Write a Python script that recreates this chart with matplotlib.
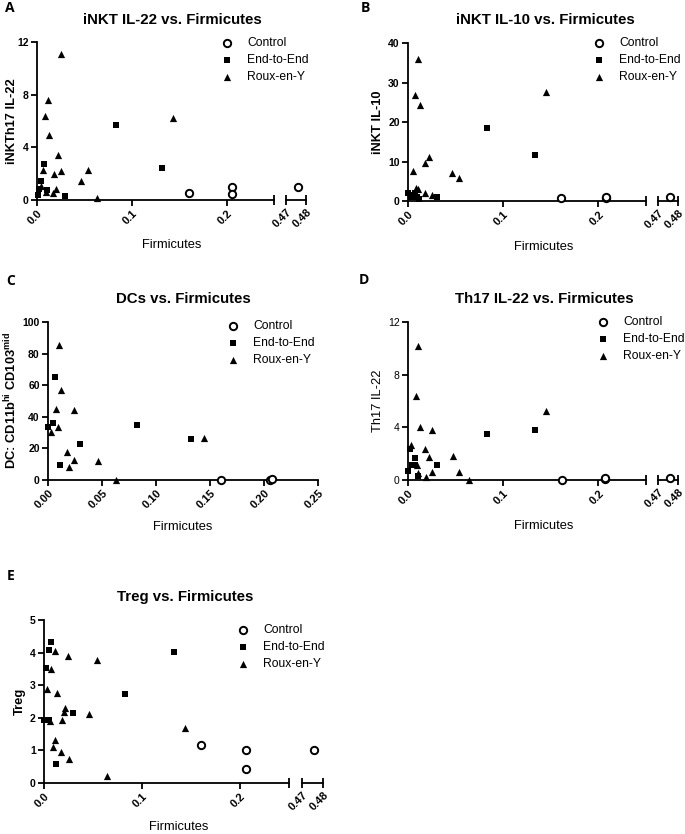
import matplotlib.pyplot as plt
import numpy as np

plt.rcParams['font.family'] = ['Liberation Sans', 'DejaVu Sans']
plt.rcParams['font.weight'] = 'bold'  # Prism style: tick labels and titles in bold
plt.rcParams['mathtext.fontset'] = 'custom'
plt.rcParams['mathtext.rm'] = 'Liberation Sans'
plt.rcParams['mathtext.bf'] = 'Liberation Sans:bold'

W, H = 685, 834
groups = ['Control', 'End-to-End', 'Roux-en-Y']

# -- A: iNKT IL-22 --
a_ctrl_x = [0.160, 0.206, 0.206, 0.476]
a_ctrl_y = [0.5, 1.0, 0.45, 1.0]
a_e2e_x = [0.001, 0.002, 0.004, 0.007, 0.011, 0.030, 0.083, 0.132]
a_e2e_y = [0.4, 0.85, 1.45, 2.7, 0.75, 0.3, 5.7, 2.4]
a_rxy_x = [0.025, 0.0115, 0.008, 0.013, 0.022, 0.006, 0.0175, 0.025, 0.054, 0.046,
           0.0635, 0.143, 0.010, 0.017, 0.020, 0.004]
a_rxy_y = [11.1, 7.6, 6.35, 4.95, 3.42, 2.28, 1.95, 2.2, 2.25, 1.45,
           0.15, 6.25, 0.63, 0.55, 0.82, 1.05]

# -- B: iNKT IL-10 --
b_ctrl_x = [0.161, 0.2077, 0.2077, 0.476]
b_ctrl_y = [0.7, 0.8, 1.1, 1.0]
b_e2e_x = [0.0828, 0.133, 0.0, 0.0035, 0.007, 0.009, 0.012, 0.030, 0.005]
b_e2e_y = [18.6, 11.6, 1.9, 1.0, 2.0, 1.0, 0.6, 0.9, 1.4]
b_rxy_x = [0.0109, 0.0077, 0.0126, 0.145, 0.0218, 0.0179, 0.0053, 0.0467, 0.0537,
           0.0088, 0.011, 0.018, 0.025]
b_rxy_y = [36.0, 26.8, 24.4, 27.6, 11.1, 9.6, 7.6, 7.2, 5.7, 3.3, 3.0, 2.0, 1.6]

# -- C: DCs --
c_ctrl_x = [0.160, 0.206, 0.207]
c_ctrl_y = [0.0, 0.0, 0.4]
c_e2e_x = [0.0068, 0.0043, 0.0, 0.082, 0.0296, 0.0108, 0.132]
c_e2e_y = [65.1, 36.2, 33.8, 34.5, 23.0, 9.7, 25.8]
c_rxy_x = [0.0105, 0.0123, 0.0074, 0.0243, 0.009, 0.0028, 0.0172, 0.0194, 0.0243,
           0.046, 0.0634, 0.144]
c_rxy_y = [85.6, 57.1, 44.8, 44.4, 33.6, 30.4, 18.0, 8.2, 12.5, 12.3, 0.0, 26.4]

# -- D: Th17 IL-22 --
d_ctrl_x = [0.162, 0.207, 0.207, 0.476]
d_ctrl_y = [0.0, 0.05, 0.12, 0.12]
d_e2e_x = [0.0828, 0.1337, 0.0018, 0.0, 0.0074, 0.0046, 0.0075, 0.011, 0.030]
d_e2e_y = [3.5, 3.76, 2.36, 0.71, 1.68, 1.17, 1.14, 0.33, 1.17]
d_rxy_x = [0.011, 0.0081, 0.0126, 0.025, 0.0035, 0.018, 0.0218, 0.047, 0.054, 0.064,
           0.145, 0.0095, 0.0105, 0.019, 0.025]
d_rxy_y = [10.15, 6.37, 4.0, 3.8, 2.64, 2.36, 1.73, 1.83, 0.61, 0.0,
           5.23, 1.14, 0.5, 0.2, 0.63]

# -- E: Treg --
e_ctrl_x = [0.160, 0.2064, 0.2064, 0.4757]
e_ctrl_y = [1.17, 1.02, 0.43, 1.02]
e_e2e_x = [0.0071, 0.0047, 0.0017, 0.0, 0.005, 0.0119, 0.030, 0.0827, 0.1325]
e_e2e_y = [4.34, 4.08, 3.53, 1.94, 1.92, 0.59, 2.14, 2.72, 4.01]
e_rxy_x = [0.0112, 0.0247, 0.054, 0.0075, 0.0034, 0.0132, 0.0217, 0.020, 0.018, 0.0464,
           0.0058, 0.0108, 0.009, 0.0176, 0.025, 0.064, 0.144]
e_rxy_y = [4.05, 3.90, 3.78, 3.49, 2.88, 2.76, 2.3, 2.19, 1.94, 2.11,
           1.89, 1.31, 1.10, 0.94, 0.73, 0.23, 1.68]

fig = plt.figure(figsize=(W / 100, H / 100), dpi=100)
plain_y_axes = []  # panels whose y tick labels are not bold


def rect(l, r, t, b):
    return [l / W, 1 - b / H, (r - l) / W, (b - t) / H]


def style(ax, lw=1.3):
    for s in ['top', 'right']:
        ax.spines[s].set_visible(False)
    for s in ['left', 'bottom']:
        ax.spines[s].set_linewidth(lw)
    ax.tick_params(axis='y', direction='out', length=4.5, width=lw, labelsize=7.5, pad=1.5)
    ax.tick_params(axis='x', direction='out', length=4.5, width=lw, labelsize=8, pad=1.5)


def scatter(ax, data, lo, hi):
    handles = []
    for (xs, ys), kind in zip(data, ['o', 's', '^']):
        xs, ys = np.array(xs), np.array(ys)
        m = (xs >= lo) & (xs <= hi)
        if kind == 'o':
            h = ax.scatter(xs[m], ys[m], marker='o', s=28, facecolors='white', edgecolors='black',
                           linewidths=1.4, clip_on=False, zorder=4)
        elif kind == 's':
            h = ax.scatter(xs[m], ys[m], marker='s', s=25, color='black', linewidths=0,
                           clip_on=False, zorder=3)
        else:
            h = ax.scatter(xs[m], ys[m], marker='^', s=27, color='black', linewidths=0,
                           clip_on=False, zorder=3)
        handles.append(h)
    return handles


def panel(data, main, ymax, yticks, broken=None, xticks=None, xlabels=None,
          ybold=True, legend_at=None):
    l, r, t, b = main
    ax = fig.add_axes(rect(l, r, t, b))
    style(ax)
    ax.set_ylim(0, ymax)
    ax.set_yticks(yticks)
    ax.set_xlim(0, 0.25)
    ax.set_xticks(xticks)
    ax.set_xticklabels(xlabels, rotation=45, ha='right', rotation_mode='anchor')
    if not ybold:
        plain_y_axes.append(ax)
    hi = 0.25 if broken else 1.0
    handles = scatter(ax, data, 0, hi)
    if broken:
        ax.set_xticks([0.25], minor=True)
        ax.tick_params(axis='x', which='minor', direction='inout', length=7, width=1.3)
        l2, r2 = broken
        ax2 = fig.add_axes(rect(l2, r2, t, b), sharey=ax)
        style(ax2)
        ax2.spines['left'].set_visible(False)
        ax2.tick_params(axis='y', left=False, labelleft=False)
        ax2.set_xlim(0.47, 0.48)
        ax2.set_xticks([0.47, 0.48])
        ax2.set_xticklabels(['0.47', '0.48'], rotation=45, ha='right', rotation_mode='anchor')
        ax2.tick_params(axis='x', direction='inout', length=7)
        ax2.patch.set_alpha(0)
        scatter(ax2, data, 0.47, 0.48)
    lx, ly = legend_at
    ax.legend(handles, groups, loc='upper left', bbox_to_anchor=(lx / W, 1 - ly / H),
              bbox_transform=fig.transFigure, frameon=False,
              prop={'size': 8.7, 'weight': 'normal'}, handlelength=1.0,
              handletextpad=1.15, labelspacing=0.42, borderpad=0, borderaxespad=0)
    return ax


def text(x, y, s, **kw):
    fig.text(x / W, 1 - y / H, s, ha='center', va='center', **kw)


brk_ticks = [0.0, 0.1, 0.2]
brk_labels = ['0.0', '0.1', '0.2']
TS, LS = 10.8, 9.3

# A
panel([(a_ctrl_x, a_ctrl_y), (a_e2e_x, a_e2e_y), (a_rxy_x, a_rxy_y)],
      (37, 274, 42, 200), 12, [0, 4, 8, 12], broken=(286, 306),
      xticks=brk_ticks, xlabels=brk_labels, legend_at=(221, 37))
text(172, 20, 'iNKT IL-22 vs. Firmicutes', fontsize=TS, fontweight='bold')
text(12, 121, 'iNKTh17 IL-22', fontsize=LS, fontweight='bold', rotation=90)
text(172, 245, 'Firmicutes', fontsize=LS, fontweight='normal')
fig.text(5 / W, 1 - 8 / H, 'A', fontsize=10, fontweight='bold', va='center', family='Open Sans')

# B
panel([(b_ctrl_x, b_ctrl_y), (b_e2e_x, b_e2e_y), (b_rxy_x, b_rxy_y)],
      (408, 646, 43, 201), 40, [0, 10, 20, 30, 40], broken=(658, 678),
      xticks=brk_ticks, xlabels=brk_labels, legend_at=(593, 37))
text(545, 20, 'iNKT IL-10 vs. Firmicutes', fontsize=TS, fontweight='bold')
text(378, 122, 'iNKT IL-10', fontsize=LS, fontweight='bold', rotation=90)
text(544, 247, 'Firmicutes', fontsize=LS, fontweight='normal')
fig.text(361 / W, 1 - 8 / H, 'B', fontsize=10, fontweight='bold', va='center', family='Open Sans')

# C
panel([(c_ctrl_x, c_ctrl_y), (c_e2e_x, c_e2e_y), (c_rxy_x, c_rxy_y)],
      (48, 318, 322, 480), 100, [0, 20, 40, 60, 80, 100],
      xticks=[0, 0.05, 0.10, 0.15, 0.20, 0.25],
      xlabels=['0.00', '0.05', '0.10', '0.15', '0.20', '0.25'], legend_at=(227, 320))
text(183, 299, 'DCs vs. Firmicutes', fontsize=TS, fontweight='bold')
text(11, 401, r'DC: CD11b$^{\mathbf{hi}}$ CD103$^{\mathbf{mid}}$', fontsize=LS,
     fontweight='bold', rotation=90)
text(183, 527, 'Firmicutes', fontsize=LS, fontweight='normal')
fig.text(6 / W, 1 - 281 / H, 'C', fontsize=10, fontweight='bold', va='center', family='Open Sans')

# D
panel([(d_ctrl_x, d_ctrl_y), (d_e2e_x, d_e2e_y), (d_rxy_x, d_rxy_y)],
      (408, 646, 322, 480), 12, [0, 4, 8, 12], broken=(658, 678),
      xticks=brk_ticks, xlabels=brk_labels, ybold=False, legend_at=(597, 316))
text(544, 299, 'Th17 IL-22 vs. Firmicutes', fontsize=TS, fontweight='bold')
text(378, 401, 'Th17 IL-22', fontsize=LS, fontweight='normal', rotation=90)
text(544, 526, 'Firmicutes', fontsize=LS, fontweight='normal')
fig.text(359 / W, 1 - 280 / H, 'D', fontsize=10, fontweight='bold', va='center', family='Open Sans')

# E
panel([(e_ctrl_x, e_ctrl_y), (e_e2e_x, e_e2e_y), (e_rxy_x, e_rxy_y)],
      (44, 289, 620, 783), 5, [0, 1, 2, 3, 4, 5], broken=(302, 323),
      xticks=brk_ticks, xlabels=brk_labels, legend_at=(237, 624))
text(185, 597, 'Treg vs. Firmicutes', fontsize=TS, fontweight='bold')
text(20, 701, 'Treg', fontsize=LS, fontweight='bold', rotation=90)
text(179, 827, 'Firmicutes', fontsize=LS, fontweight='normal')
fig.text(7 / W, 1 - 576 / H, 'E', fontsize=10, fontweight='bold', va='center', family='Open Sans')

fig.canvas.draw()
for ax in plain_y_axes:
    for lab in ax.get_yticklabels():
        lab.set_fontweight('normal')

fig.savefig('out.png', dpi=100)
